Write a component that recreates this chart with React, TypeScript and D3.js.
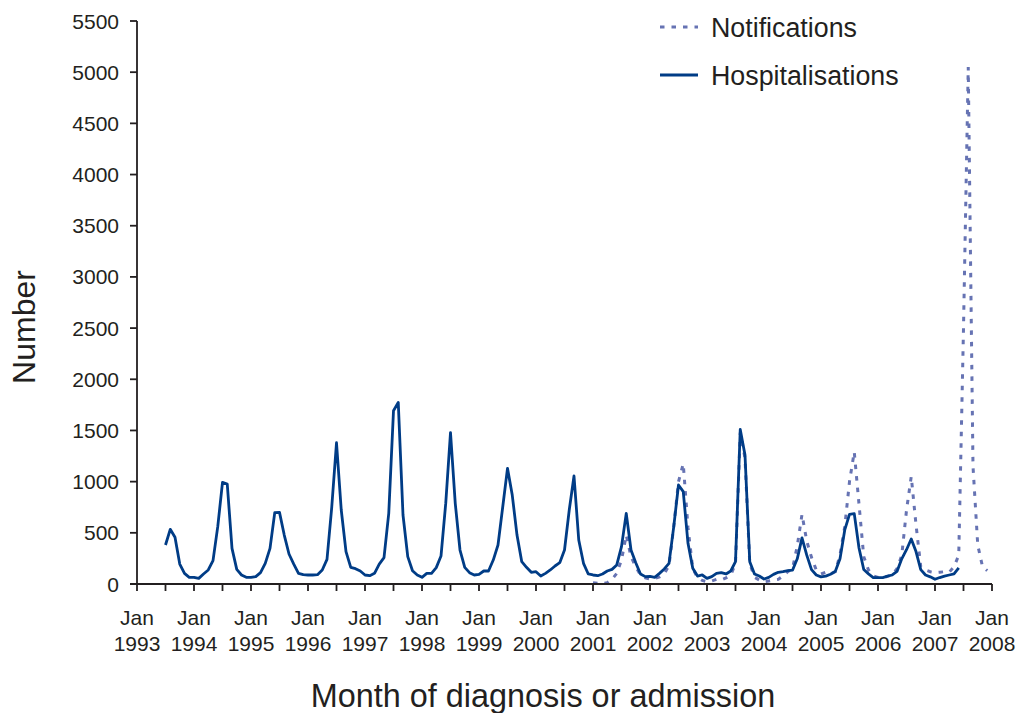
import React from 'react';
import * as d3 from 'd3';

// Month index 0 = Jan 1993
const hospStartMonth = 6; // Jul 1993
const hospitalisations = [
  381, 534, 456, 195, 104, 65,
  65, 55, 98, 137, 228, 560, 993, 977, 348, 143, 88, 65,
  65, 72, 111, 202, 348, 697, 700, 478, 293, 195, 104, 91,
  88, 88, 91, 137, 241, 750, 1380, 723, 316, 163, 150, 127,
  88, 81, 104, 195, 257, 690, 1693, 1774, 674, 267, 130, 88,
  65, 104, 104, 160, 273, 790, 1478, 788, 332, 163, 111, 88,
  94, 127, 127, 234, 381, 755, 1130, 869, 478, 218, 163, 114,
  120, 78, 104, 137, 176, 208, 332, 723, 1055, 430, 202, 98,
  88, 81, 98, 127, 143, 186, 365, 690, 332, 208, 98, 72,
  75, 65, 104, 147, 202, 560, 967, 902, 397, 153, 78, 88,
  55, 72, 104, 111, 98, 127, 218, 1510, 1260, 218, 98, 78,
  49, 65, 94, 114, 120, 130, 135, 246, 451, 282, 141, 88,
  70, 77, 95, 123, 246, 528, 680, 687, 352, 141, 99, 63,
  63, 63, 77, 88, 123, 246, 335, 440, 317, 141, 88, 70,
  46, 63, 77, 88, 99, 158,
];

const notifStartMonth = 96; // Jan 2001
const notifications = [
  13, 8, 5, 13, 46, 104, 234, 478, 267, 169, 88, 60,
  50, 55, 70, 100, 180, 560, 1000, 1175, 550, 150, 65, 35,
  22, 30, 45, 40, 60, 88, 200, 1480, 1230, 200, 65, 40,
  22, 30, 39, 45, 80, 120, 150, 371, 680, 420, 260, 137,
  98, 114, 98, 120, 283, 560, 1000, 1290, 780, 267, 137, 80,
  65, 60, 75, 90, 150, 280, 720, 1050, 580, 170, 137, 120,
  111, 115, 120, 115, 170, 280, 2500, 5050, 1150, 380, 170, 130,
];

const yTicks = [0, 500, 1000, 1500, 2000, 2500, 3000, 3500, 4000, 4500, 5000, 5500];
const xLabelYears = ['1993', '1994', '1995', '1996', '1997', '1998', '1999', '2000', '2001', '2002', '2003', '2004', '2005', '2006', '2007', '2008'];
const xLabelMonth = 'Jan';
const seriesNames = ['Notifications', 'Hospitalisations'];

const FONT = '"Liberation Sans", Arial, sans-serif';
const TEXT = '#231f20';
const SOLID = '#003c86';
const DOTTED = '#6673b3';

export default function App() {
  const W = 1017;
  const H = 713;
  const x = d3.scaleLinear().domain([0, 180]).range([137, 992]);
  const y = d3.scaleLinear().domain([0, 5500]).range([584, 21]);

  const line = d3
    .line<[number, number]>()
    .x((d) => x(d[0]))
    .y((d) => y(d[1]));

  const hospPts: [number, number][] = hospitalisations.map((v, i) => [hospStartMonth + i, v]);
  const notifPts: [number, number][] = notifications.map((v, i) => [notifStartMonth + i, v]);

  const halfYearTicks = d3.range(0, 181, 6);

  return (
    <svg
      width={W}
      height={H}
      style={{ position: 'absolute', left: 0, top: 0, background: '#fff' }}
      fontFamily={FONT}
    >
      {/* Lines */}
      <path d={line(notifPts) || ''} fill="none" stroke={DOTTED} strokeWidth={3} strokeDasharray="4.5,7" />
      <path d={line(hospPts) || ''} fill="none" stroke={SOLID} strokeWidth={2.8} strokeLinejoin="round" />

      {/* Y axis */}
      <line x1={x(0)} x2={x(0)} y1={y(5500)} y2={y(0)} stroke={TEXT} strokeWidth={1.8} />
      {yTicks.map((t) => (
        <g key={t}>
          <line x1={x(0) - 7} x2={x(0)} y1={y(t)} y2={y(t)} stroke={TEXT} strokeWidth={1.8} />
          <text x={119} y={y(t)} dy="0.36em" textAnchor="end" fontSize={21} fill={TEXT}>
            {t}
          </text>
        </g>
      ))}

      {/* X axis */}
      <line x1={x(0) - 7} x2={x(180)} y1={y(0)} y2={y(0)} stroke={TEXT} strokeWidth={1.8} />
      {halfYearTicks.map((m) => (
        <line key={m} x1={x(m)} x2={x(m)} y1={y(0)} y2={y(0) + 7} stroke={TEXT} strokeWidth={1.8} />
      ))}
      {xLabelYears.map((yr, i) => (
        <g key={yr}>
          <text x={x(i * 12)} y={625} textAnchor="middle" fontSize={21} fill={TEXT}>
            {xLabelMonth}
          </text>
          <text x={x(i * 12)} y={651} textAnchor="middle" fontSize={21} fill={TEXT}>
            {yr}
          </text>
        </g>
      ))}

      {/* Axis titles */}
      <text x={543} y={707} textAnchor="middle" fontSize={32.4} fill={TEXT}>
        Month of diagnosis or admission
      </text>
      <text
        transform={`translate(35, 327) rotate(-90)`}
        textAnchor="middle"
        fontSize={32}
        fill={TEXT}
      >
        Number
      </text>

      {/* Legend */}
      <line x1={660} x2={698} y1={27} y2={27} stroke={DOTTED} strokeWidth={3} strokeDasharray="4.5,7" />
      <text x={711} y={27} dy="0.36em" fontSize={26.8} fill={TEXT}>
        {seriesNames[0]}
      </text>
      <line x1={660} x2={698} y1={75} y2={75} stroke={SOLID} strokeWidth={2.8} />
      <text x={711} y={75} dy="0.36em" fontSize={26.8} fill={TEXT}>
        {seriesNames[1]}
      </text>
    </svg>
  );
}
